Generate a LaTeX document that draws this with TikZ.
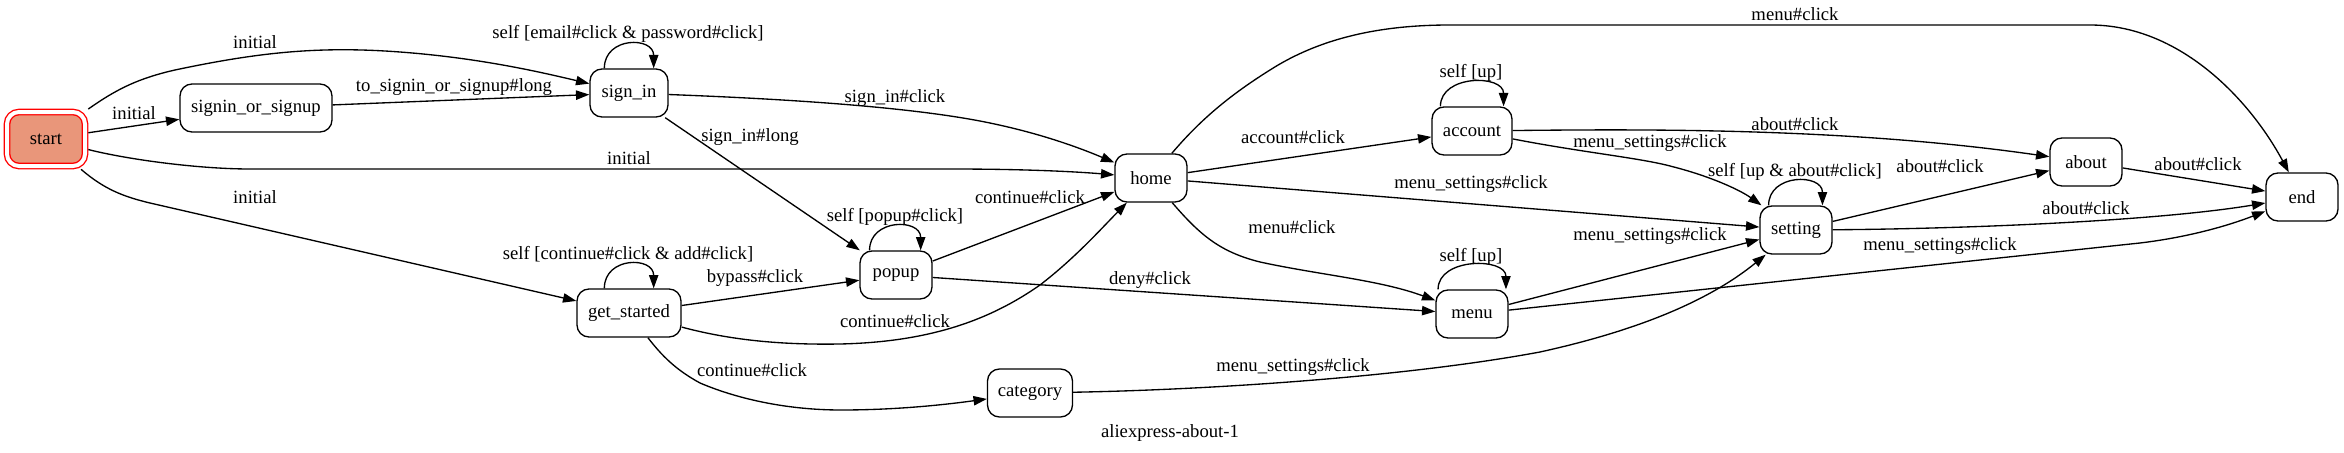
\documentclass[tikz,border=0pt]{standalone}
\usepackage{fontspec}
\setmainfont{Liberation Serif}
\usetikzlibrary{arrows.meta}
\definecolor{startfill}{RGB}{233,150,122}
\begin{document}
\begin{tikzpicture}[x=0.75pt,y=-0.75pt,
  state/.style={draw, rounded corners=9pt, minimum height=36pt, inner sep=0pt, line width=1pt, font=\fontsize{14}{16}\selectfont},
  edge/.style={draw, line width=1pt, -{Triangle[length=10pt,width=7pt]}},
  lbl/.style={font=\fontsize{14}{16}\selectfont, inner sep=0pt}]
\useasboundingbox (0,0) rectangle (2344,453);
% states
\node[state, minimum width=58.5pt, minimum height=40.5pt, fill=startfill, draw=red, double=white, double distance=3pt, outer sep=2.5pt] (start) at (46,139) {start};
\node[state, minimum width=114pt] (signin) at (256,108) {signin\_or\_signup};
\node[state, minimum width=58.5pt] (sign_in) at (629,93) {sign\_in};
\node[state, minimum width=78pt] (get_started) at (629,313) {get\_started};
\node[state, minimum width=54pt] (popup) at (896,275) {popup};
\node[state, minimum width=54pt] (home) at (1151,178) {home};
\node[state, minimum width=63.75pt] (category) at (1030,393) {category};
\node[state, minimum width=60pt] (account) at (1472,131) {account};
\node[state, minimum width=54pt] (menu) at (1472,314) {menu};
\node[state, minimum width=54pt] (setting) at (1796,230) {setting};
\node[state, minimum width=54pt] (about) at (2086,162) {about};
\node[state, minimum width=54pt] (end) at (2302,197) {end};
% edges
\draw[edge] (start) .. controls (118,88) and (140,78) .. (175,70) .. controls (260,52) and (320,46) .. (400,52) .. controls (480,58) and (540,72) .. (sign_in);
\draw[edge] (start) -- (signin);
\draw[edge] (signin) -- (sign_in);
\draw[edge] (start) .. controls (130,160) and (200,169) .. (250,169) -- (950,169) .. controls (1030,169) and (1080,172) .. (home);
\draw[edge] (start) .. controls (105,190) and (125,197) .. (150,203) -- (get_started);
\draw[edge] (sign_in.135) .. controls +(0,-32) and +(0,-32) .. (sign_in.45);
\draw[edge] (sign_in) .. controls (760,98) and (900,105) .. (985,122) .. controls (1040,133) and (1080,148) .. (home);
\draw[edge] (sign_in) -- (popup);
\draw[edge] (popup.137.3) .. controls +(0,-32) and +(0,-32) .. (popup.45);
\draw[edge] (popup) -- (home);
\draw[edge] (popup) -- (menu);
\draw[edge] (get_started.135) .. controls +(0,-32) and +(0,-32) .. (get_started.45);
\draw[edge] (get_started) -- (popup);
\draw[edge] (get_started) .. controls (730,340) and (780,345) .. (840,344) .. controls (930,342) and (990,320) .. (1040,285) .. controls (1075,258) and (1100,230) .. (home);
\draw[edge] (get_started) .. controls (665,360) and (680,372) .. (700,383) .. controls (740,400) and (790,410) .. (841,410) .. controls (900,410) and (950,404) .. (category);
\draw[edge] (category) .. controls (1200,390) and (1400,378) .. (1540,352) .. controls (1640,330) and (1710,300) .. (setting);
\draw[edge] (home) -- (account);
\draw[edge] (home) -- (setting);
\draw[edge] (home) .. controls (1200,235) and (1220,252) .. (1260,262) .. controls (1320,275) and (1380,280) .. (menu);
\draw[edge] (home) .. controls (1200,120) and (1230,95) .. (1270,70) .. controls (1320,38) and (1380,25) .. (1450,25) -- (2090,25) .. controls (2180,25) and (2250,100) .. (end);
\draw[edge] (account.142.3) .. controls +(0,-32) and +(0,-32) .. (account.38.7);
\draw[edge] (menu.144.8) .. controls +(0,-32) and +(0,-32) .. (menu.36.9);
\draw[edge] (account) .. controls (1650,129) and (1850,128) .. (about);
\draw[edge] (account) .. controls (1580,152) and (1640,158) .. (1670,166) .. controls (1710,176) and (1740,190) .. (setting);
\draw[edge] (menu) -- (setting);
\draw[edge] (menu) -- (2140,243) .. controls (2190,237) and (2230,225) .. (end);
\draw[edge] (setting.138.4) .. controls +(0,-32) and +(0,-32) .. (setting.43.8);
\draw[edge] (setting) -- (about);
\draw[edge] (setting) .. controls (1950,229) and (2150,222) .. (end);
\draw[edge] (about) -- (end);
% labels
\node[lbl] (l1) at (255,42) {initial};
\node[lbl] (l2) at (134,113) {initial};
\node[lbl] (l3) at (454,87) {to\_signin\_or\_signup\#long};
\node[lbl] (l4) at (629,158) {initial};
\node[lbl] (l5) at (255,197) {initial};
\node[lbl] (l6) at (628,34) {self [email\#click \& password\#click]};
\node[lbl] (l7) at (895,98) {sign\_in\#click};
\node[lbl] (l8) at (750,137) {sign\_in\#long};
\node[lbl] (l9) at (895,217) {self [popup\#click]};
\node[lbl] (l10) at (1030,197) {continue\#click};
\node[lbl] (l11) at (1150,280) {deny\#click};
\node[lbl] (l12) at (628,254) {self [continue\#click \& add\#click]};
\node[lbl] (l13) at (755,278) {bypass\#click};
\node[lbl] (l14) at (895,321) {continue\#click};
\node[lbl] (l15) at (752,370) {continue\#click};
\node[lbl] (l16) at (1293,367) {menu\_settings\#click};
\node[lbl] (l17) at (1293,137) {account\#click};
\node[lbl] (l18) at (1471,184) {menu\_settings\#click};
\node[lbl] (l19) at (1292,227) {menu\#click};
\node[lbl] (l20) at (1795,14) {menu\#click};
\node[lbl] (l21) at (1471,73) {self [up]};
\node[lbl] (l22) at (1471,257) {self [up]};
\node[lbl] (l23) at (1795,124) {about\#click};
\node[lbl] (l24) at (1650,143) {menu\_settings\#click};
\node[lbl] (l25) at (1795,172) {self [up \& about\#click]};
\node[lbl] (l26) at (1940,166) {about\#click};
\node[lbl] (l27) at (2198,164) {about\#click};
\node[lbl] (l28) at (2086,208) {about\#click};
\node[lbl] (l29) at (1650,236) {menu\_settings\#click};
\node[lbl] (l30) at (1940,246) {menu\_settings\#click};
\node[lbl] (title) at (1170,433) {aliexpress-about-1};
\end{tikzpicture}
\end{document}
